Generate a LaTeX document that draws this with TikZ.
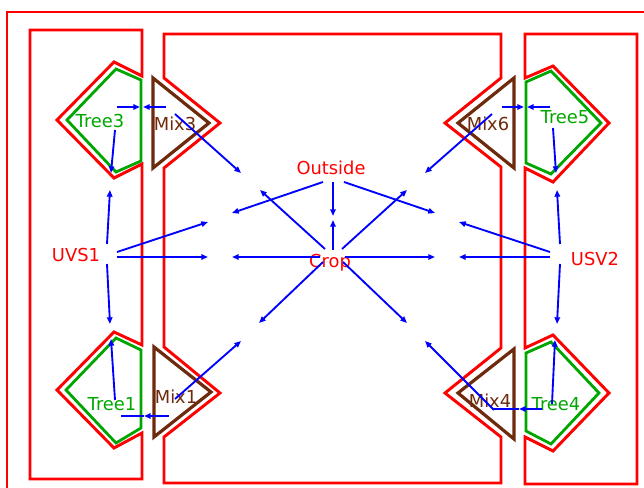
\documentclass[tikz,border=0pt]{standalone}
\usepackage{fontspec}
\setmainfont{DejaVu Sans}
\usetikzlibrary{arrows.meta}

\tikzset{every picture/.style={line width=0.75pt}}
\tikzset{
  cluster/.style={color={rgb, 255:red, 255; green, 0; blue, 0 }, line width=2.2, line join=miter},
  treeline/.style={color={rgb, 255:red, 0; green, 166; blue, 0 }, line width=2.1},
  mixline/.style={color={rgb, 255:red, 110; green, 42; blue, 12 }, line width=2.4},
  arr/.style={color={rgb, 255:red, 0; green, 0; blue, 255 }, line width=1.4, -{Triangle[length=5pt,width=4pt]}},
  plainarr/.style={color={rgb, 255:red, 0; green, 0; blue, 255 }, line width=1.4},
  redtext/.style={text={rgb, 255:red, 255; green, 0; blue, 0 }, font=\fontsize{13.4}{15}\selectfont, inner sep=0pt},
  treetext/.style={text={rgb, 255:red, 0; green, 166; blue, 0 }, font=\fontsize{13.4}{15}\selectfont, inner sep=0pt},
  mixtext/.style={text={rgb, 255:red, 110; green, 42; blue, 12 }, font=\fontsize{13.4}{15}\selectfont, inner sep=0pt}
}

\begin{document}
\begin{tikzpicture}[x=0.75pt,y=0.75pt,yscale=-1,xscale=1]
\useasboundingbox (0,0) rectangle (644,488);
\clip (0,0) rectangle (644,488);

%Shape: Rectangle [id:outer]
\draw [cluster] (7,12) rectangle (660,500) ;

%Shape: Polygon [id:leftcluster]
\draw [cluster] (30,30) -- (142,30) -- (142,76) -- (114,62) -- (57,120) -- (114,178) -- (142,164) -- (142,345) -- (114,332) -- (57,390) -- (114,448) -- (142,433) -- (142,479) -- (30,479) -- cycle ;
%Shape: Polygon [id:centercluster]
\draw [cluster] (164,34) -- (501,34) -- (501,78) -- (445,123) -- (501,167) -- (501,348) -- (445,393) -- (501,437) -- (501,483) -- (164,483) -- (164,437) -- (220,393) -- (164,347) -- (164,168) -- (220,123) -- (164,78) -- cycle ;
%Shape: Polygon [id:rightcluster]
\draw [cluster] (525,34) -- (637,34) -- (637,484) -- (525,484) -- (525,437) -- (553,451) -- (609,393) -- (553,335) -- (525,348) -- (525,168) -- (553,182) -- (609,123) -- (553,66) -- (525,78) -- cycle ;

%Shape: Pentagons [id:trees]
\draw [treeline] (116,69) -- (141,80) -- (141,161) -- (116,172) -- (67,120) -- cycle ;
\draw [treeline] (116,338) -- (141,350) -- (141,428) -- (116,443) -- (66,390) -- cycle ;
\draw [treeline] (551,71) -- (526,82) -- (526,163) -- (551,174) -- (601,123) -- cycle ;
\draw [treeline] (551,342) -- (526,353) -- (526,431) -- (551,444) -- (599,393) -- cycle ;

%Shape: Triangles [id:mixers]
\draw [mixline] (153,78) -- (209,123) -- (153,168) -- cycle ;
\draw [mixline] (154,347) -- (211,392) -- (154,437) -- cycle ;
\draw [mixline] (514,78) -- (458,123) -- (514,168) -- cycle ;
\draw [mixline] (514,349) -- (458,393) -- (514,439) -- cycle ;

% Text Node
\node [redtext] (outside) at (331,168) {Outside};
% Text Node
\node [redtext] (crop) at (330,263) {Crop};
% Text Node
\node [redtext] (uvs) at (76,255) {UVS1};
% Text Node
\node [redtext] (usv) at (595,259) {USV2};
% Text Node
\node [treetext] (tree3) at (100,121) {Tree3};
% Text Node
\node [treetext] (tree1) at (112,404) {Tree1};
% Text Node
\node [treetext] (tree5) at (565,117) {Tree5};
% Text Node
\node [treetext] (tree4) at (556,404) {Tree4};
% Text Node
\node [mixtext] (mix3) at (175,124) {Mix3};
% Text Node
\node [mixtext] (mix1) at (176,397) {Mix1};
% Text Node
\node [mixtext] (mix6) at (488,124) {Mix6};
% Text Node
\node [mixtext] (mix4) at (490,401) {Mix4};

%Coordinates: arrow ends
\coordinate (outsideA) at (323,182) ; \coordinate (outsideB) at (333,182) ; \coordinate (outsideC) at (344,182) ;
\coordinate (cropN) at (333,250) ; \coordinate (cropNW) at (325,249) ; \coordinate (cropNE) at (342,249) ;
\coordinate (cropW) at (320,257) ; \coordinate (cropE) at (345,257) ;
\coordinate (cropSW) at (323,262) ; \coordinate (cropSE) at (343,262) ;
\coordinate (endOA) at (232,213) ; \coordinate (endOB) at (333,216) ; \coordinate (endOC) at (435,213) ;
\coordinate (endCN) at (333,220) ; \coordinate (endCNW) at (260,190) ; \coordinate (endCNE) at (407,190) ;
\coordinate (endCW) at (232,257) ; \coordinate (endCE) at (435,257) ;
\coordinate (endCSW) at (259,323) ; \coordinate (endCSE) at (407,323) ;

\coordinate (uvsE) at (117,257) ; \coordinate (uvsNE) at (117,252) ; \coordinate (uvsN) at (107,244) ; \coordinate (uvsS) at (107,264) ;
\coordinate (endUE) at (208,257) ; \coordinate (endUNE) at (208,222) ; \coordinate (endUN) at (110,190) ; \coordinate (endUS) at (110,324) ;
\coordinate (usvW) at (550,257) ; \coordinate (usvNW) at (550,252) ; \coordinate (usvN) at (560,244) ; \coordinate (usvS) at (560,264) ;
\coordinate (endVW) at (459,257) ; \coordinate (endVNW) at (459,222) ; \coordinate (endVN) at (557,190) ; \coordinate (endVS) at (557,324) ;

\coordinate (tree3E) at (117,107) ; \coordinate (mix3W) at (166,107) ; \coordinate (tree3S) at (115,130) ; \coordinate (mix3SE) at (175,114) ;
\coordinate (tree3Mid) at (140,107) ; \coordinate (mix3Mid) at (143,107) ; \coordinate (tree3Dn) at (111,173) ; \coordinate (mix3Out) at (241,173) ;
\coordinate (tree1N) at (115,400) ; \coordinate (tree1E) at (121,416) ; \coordinate (mix1W) at (169,416) ; \coordinate (mix1NE) at (175,399) ;
\coordinate (tree1Up) at (111,339) ; \coordinate (tree1Mid) at (144,416) ; \coordinate (mix1Out) at (241,341) ;
\coordinate (mix6E) at (502,107) ; \coordinate (tree5W) at (550,107) ; \coordinate (tree5S) at (553,128) ; \coordinate (mix6SW) at (492,114) ;
\coordinate (mix6Mid) at (524,107) ; \coordinate (tree5Mid) at (527,107) ; \coordinate (tree5Dn) at (556,173) ; \coordinate (mix6Out) at (425,173) ;
\coordinate (tree4N) at (552,404) ; \coordinate (tree4W) at (542,409) ; \coordinate (mix4E) at (493,409) ; \coordinate (mix4NW) at (494,410) ;
\coordinate (tree4Up) at (555,340) ; \coordinate (tree4Mid) at (519,409) ; \coordinate (mix4Out) at (425,341) ;

%Straight Lines [id:outsideArrows]
\draw [arr] (outsideA) -- (endOA) ;
\draw [arr] (outsideB) -- (endOB) ;
\draw [arr] (outsideC) -- (endOC) ;
%Straight Lines [id:cropArrows]
\draw [arr] (cropN) -- (endCN) ;
\draw [arr] (cropNW) -- (endCNW) ;
\draw [arr] (cropNE) -- (endCNE) ;
\draw [arr] (cropW) -- (endCW) ;
\draw [arr] (cropE) -- (endCE) ;
\draw [arr] (cropSW) -- (endCSW) ;
\draw [arr] (cropSE) -- (endCSE) ;
%Straight Lines [id:uvsArrows]
\draw [arr] (uvsE) -- (endUE) ;
\draw [arr] (uvsNE) -- (endUNE) ;
\draw [arr] (uvsN) -- (endUN) ;
\draw [arr] (uvsS) -- (endUS) ;
%Straight Lines [id:usvArrows]
\draw [arr] (usvW) -- (endVW) ;
\draw [arr] (usvNW) -- (endVNW) ;
\draw [arr] (usvN) -- (endVN) ;
\draw [arr] (usvS) -- (endVS) ;
%Straight Lines [id:tree3Arrows]
\draw [arr] (tree3E) -- (tree3Mid) ;
\draw [arr] (mix3W) -- (mix3Mid) ;
\draw [arr] (tree3S) -- (tree3Dn) ;
\draw [arr] (mix3SE) -- (mix3Out) ;
%Straight Lines [id:tree1Arrows]
\draw [arr] (tree1N) -- (tree1Up) ;
\draw [plainarr] (tree1E) -- (tree1Mid) ;
\draw [arr] (mix1W) -- (tree1Mid) ;
\draw [arr] (mix1NE) -- (mix1Out) ;
%Straight Lines [id:tree5Arrows]
\draw [arr] (mix6E) -- (mix6Mid) ;
\draw [arr] (tree5W) -- (tree5Mid) ;
\draw [arr] (tree5S) -- (tree5Dn) ;
\draw [arr] (mix6SW) -- (mix6Out) ;
%Straight Lines [id:tree4Arrows]
\draw [arr] (tree4N) -- (tree4Up) ;
\draw [plainarr] (mix4E) -- (tree4Mid) ;
\draw [arr] (tree4W) -- (tree4Mid) ;
\draw [arr] (mix4NW) -- (mix4Out) ;

\end{tikzpicture}
\end{document}
